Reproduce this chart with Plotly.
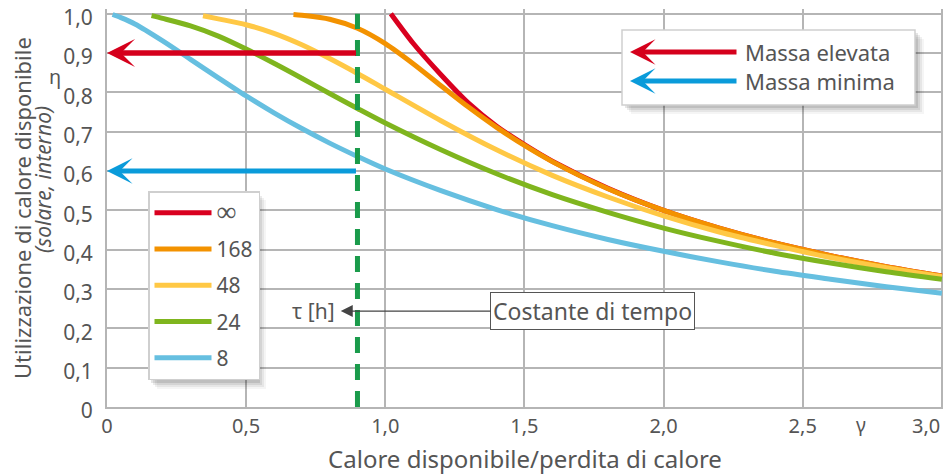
import plotly.graph_objects as go

# ---------------- data ----------------
tau_labels = ["∞", "168", "48", "24", "8"]
colors = ["#D9001F", "#F39200", "#FFC845", "#7FB51E", "#66BFE0"]

g_inf = [1.02, 1.1, 1.2, 1.3, 1.4, 1.5, 1.6, 1.8, 2.0, 2.2, 2.4, 2.6, 2.8, 3.0]
e_inf = [1.0, 0.925, 0.845, 0.772, 0.714, 0.667, 0.625, 0.556, 0.5, 0.455, 0.417, 0.385, 0.357, 0.333]

g_168 = [0.67, 0.7, 0.8, 0.9, 1.0, 1.1, 1.2, 1.3, 1.4, 1.5, 1.6, 1.8, 2.0, 2.2, 2.4, 2.6, 2.8, 3.0]
e_168 = [0.998, 0.996, 0.986, 0.963, 0.924, 0.873, 0.817, 0.762, 0.711, 0.665, 0.624, 0.555, 0.5, 0.455, 0.417, 0.385, 0.357, 0.333]

g_48 = [0.345, 0.4, 0.5, 0.6, 0.7, 0.8, 0.9, 1.0, 1.2, 1.4, 1.6, 1.8, 2.0, 2.2, 2.4, 2.6, 2.8, 3.0]
e_48 = [0.995, 0.987, 0.972, 0.950, 0.921, 0.886, 0.848, 0.808, 0.728, 0.654, 0.589, 0.534, 0.486, 0.445, 0.411, 0.380, 0.354, 0.331]

g_24 = [0.16, 0.2, 0.3, 0.4, 0.5, 0.6, 0.7, 0.8, 0.9, 1.0, 1.2, 1.4, 1.6, 1.8, 2.0, 2.2, 2.4, 2.6, 2.8, 3.0]
e_24 = [0.995, 0.988, 0.969, 0.943, 0.910, 0.874, 0.836, 0.797, 0.759, 0.722, 0.654, 0.593, 0.540, 0.495, 0.455, 0.421, 0.391, 0.366, 0.344, 0.325]

g_8 = [0.02, 0.05, 0.1, 0.2, 0.3, 0.4, 0.5, 0.6, 0.7, 0.8, 0.9, 1.0, 1.2, 1.4, 1.6, 1.8, 2.0, 2.2, 2.4, 2.6, 2.8, 3.0]
e_8 = [0.998, 0.990, 0.974, 0.931, 0.884, 0.837, 0.791, 0.748, 0.708, 0.671, 0.637, 0.605, 0.550, 0.502, 0.461, 0.426, 0.396, 0.369, 0.345, 0.325, 0.306, 0.289]

series_x = [g_inf, g_168, g_48, g_24, g_8]
series_y = [e_inf, e_168, e_48, e_24, e_8]

x_ticks = [0, 0.5, 1.0, 1.5, 2.0, 2.5, 3.0]
x_ticktext = ["0", "0,5", "1,0", "1,5", "2,0", "2,5", ""]
x_last_label = "3,0"
y_ticks = [0, 0.1, 0.2, 0.3, 0.4, 0.5, 0.6, 0.7, 0.8, 0.9, 1.0]
y_ticktext = ["0", "0,1", "0,2", "0,3", "0,4", "0,5", "0,6", "0,7", "0,8", "0,9", "1,0"]

tau_marker = 0.9          # dashed time-constant line
eta_high = 0.9            # "Massa elevata"
eta_low = 0.6             # "Massa minima"

FONT = "Noto Sans"
TXT = "#555555"
GRID = "#B5B5B5"
RED_ARROW = "#D5001C"
BLUE_ARROW = "#0A9BDA"

fig = go.Figure()
for xs, ys, name, c in zip(series_x, series_y, tau_labels, colors):
    label = "<span style='font-size:28px'>%s</span>" % name if name == "∞" else name
    fig.add_trace(go.Scatter(x=xs, y=ys, mode="lines", name=label,
                             legendgroup=name,
                             line=dict(color=c, width=5, shape="spline", smoothing=0.8)))

# dashed vertical line at tau_marker
fig.add_trace(go.Scatter(x=[tau_marker, tau_marker], y=[0, 1.0], mode="lines",
                         showlegend=False, hoverinfo="skip",
                         line=dict(color="#1A9B4B", width=5, dash="16px,11px")))

# Figure fills the whole window (page body margin removed below)
W, H = 946, 475
L, R, T, B = 107, 3, 9, 68
PW, PH = W - L - R, H - T - B
def px(xp):
    return (xp - L) / PW
def py(yp):
    return (H - B - yp) / PH

shapes = []
for off, op in [(3, 0.10), (5, 0.08), (7, 0.06), (9, 0.04)]:
    shapes.append(dict(type="rect", xref="paper", yref="paper",
                       x0=px(622 + off), x1=px(915 + off), y0=py(105 + off), y1=py(30 + off),
                       fillcolor="black", opacity=op, line=dict(width=0), layer="above"))
    shapes.append(dict(type="rect", xref="paper", yref="paper",
                       x0=px(148 + off), x1=px(257 + off), y0=py(380 + off), y1=py(191 + off),
                       fillcolor="black", opacity=op, line=dict(width=0), layer="above"))
shapes.append(dict(type="rect", xref="paper", yref="paper",
                   x0=px(622), x1=px(915), y0=py(105), y1=py(30),
                   fillcolor="white", line=dict(color="#CFCFCF", width=1.5), layer="above"))

annotations = [
    dict(x=0, y=eta_high, ax=tau_marker, ay=eta_high, xref="x", yref="y", axref="x", ayref="y",
         text="", showarrow=True, arrowhead=3, arrowsize=0.85, arrowwidth=5.5, arrowcolor=RED_ARROW),
    dict(x=0, y=eta_low, ax=tau_marker, ay=eta_low, xref="x", yref="y", axref="x", ayref="y",
         text="", showarrow=True, arrowhead=3, arrowsize=0.85, arrowwidth=5, arrowcolor=BLUE_ARROW),
    dict(x=px(630), y=py(52), xref="paper", yref="paper", ax=108, ay=0, text="",
         showarrow=True, arrowhead=3, arrowsize=0.85, arrowwidth=5, arrowcolor=RED_ARROW),
    dict(x=px(630), y=py(81), xref="paper", yref="paper", ax=108, ay=0, text="",
         showarrow=True, arrowhead=3, arrowsize=0.85, arrowwidth=5, arrowcolor=BLUE_ARROW),
    dict(x=px(743), y=py(52), xref="paper", yref="paper", text="Massa elevata", showarrow=False,
         xanchor="left", yanchor="middle", font=dict(family=FONT, size=22, color=TXT)),
    dict(x=px(743), y=py(81), xref="paper", yref="paper", text="Massa minima", showarrow=False,
         xanchor="left", yanchor="middle", font=dict(family=FONT, size=22, color=TXT)),
    dict(x=0.84, y=0.244, xref="x", yref="y", ax=252, ay=0, text="Costante di tempo",
         showarrow=True, arrowhead=2, arrowsize=2, arrowwidth=1.2, arrowcolor="#444444",
         bgcolor="white", bordercolor="#555555", borderwidth=1, borderpad=2,
         font=dict(family=FONT, size=23, color=TXT)),
    dict(x=0.825, y=0.244, xref="x", yref="y", text="τ [h]", showarrow=False,
         xanchor="right", yanchor="middle", font=dict(family=FONT, size=21, color=TXT)),
    dict(x=2.71, y=py(425), xref="x", yref="paper", text="γ", showarrow=False,
         xanchor="center", yanchor="middle", font=dict(family=FONT, size=19, color=TXT)),
    dict(x=3.0, y=py(425), xref="x", yref="paper", text=x_last_label, showarrow=False,
         xanchor="right", yanchor="middle", font=dict(family=FONT, size=20, color=TXT)),
    dict(x=px(55), y=py(76), xref="paper", yref="paper", text="η", showarrow=False,
         xanchor="center", yanchor="middle", font=dict(family=FONT, size=20, color=TXT)),
    dict(x=px(22), y=py(208), xref="paper", yref="paper", text="Utilizzazione di calore disponibile",
         textangle=-90, showarrow=False, xanchor="center", yanchor="middle",
         font=dict(family=FONT, size=22, color=TXT)),
    dict(x=px(43), y=py(180), xref="paper", yref="paper", text="<i>(solare, interno)</i>",
         textangle=-90, showarrow=False, xanchor="center", yanchor="middle",
         font=dict(family=FONT, size=21, color=TXT)),
]

fig.update_layout(
    width=W, height=H,
    margin=dict(l=L, r=R, t=T, b=B, autoexpand=False),
    plot_bgcolor="white", paper_bgcolor="white",
    font=dict(family=FONT, size=20, color=TXT),
    shapes=shapes, annotations=annotations,
    legend=dict(x=px(148), y=py(191), xanchor="left", yanchor="top",
                bgcolor="white", bordercolor="#CFCFCF", borderwidth=1.5,
                font=dict(family=FONT, size=21, color=TXT),
                tracegroupgap=6, itemwidth=57),
    xaxis=dict(range=[0, 3.004], tickvals=x_ticks, ticktext=x_ticktext,
               showgrid=True, gridcolor=GRID, gridwidth=2, zeroline=False,
               showline=True, linecolor=GRID, linewidth=2, ticks="", automargin=False,
               tickfont=dict(family=FONT, size=20, color=TXT),
               title=dict(text="Calore disponibile/perdita di calore", standoff=14,
                          font=dict(family=FONT, size=24, color=TXT))),
    yaxis=dict(range=[0, 1.012], tickvals=y_ticks, ticktext=y_ticktext,
               showgrid=True, gridcolor=GRID, gridwidth=2, zeroline=False,
               showline=True, linecolor=GRID, linewidth=2, ticks="", automargin=False,
               ticklabelshift=4, ticklabelstandoff=8, ticklabeloverflow="allow",
               tickfont=dict(family=FONT, size=21, color=TXT)),
)

fig.write_html("out.html", config={"displayModeBar": False},
               post_script="document.body.style.margin='0';document.body.style.overflow='hidden';")
